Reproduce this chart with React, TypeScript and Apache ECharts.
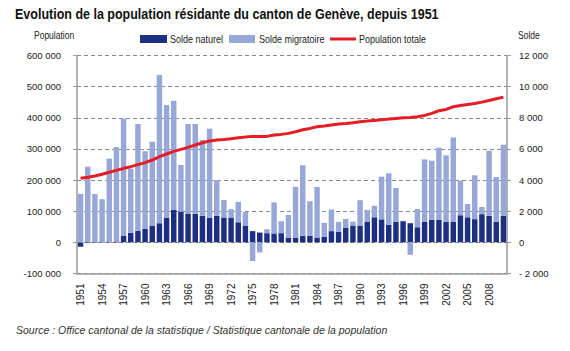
import React, { useEffect, useRef } from "react";
import * as echarts from "echarts";

const years = [
  "1951","1952","1953","1954","1955","1956","1957","1958","1959","1960",
  "1961","1962","1963","1964","1965","1966","1967","1968","1969","1970",
  "1971","1972","1973","1974","1975","1976","1977","1978","1979","1980",
  "1981","1982","1983","1984","1985","1986","1987","1988","1989","1990",
  "1991","1992","1993","1994","1995","1996","1997","1998","1999","2000",
  "2001","2002","2003","2004","2005","2006","2007","2008","2009","2010",
];

const soldeNaturel = [
  -280, -50, -40, -20, 50, 60, 430, 610, 740, 860,
  1080, 1230, 1590, 2080, 1980, 1850, 1830, 1700, 1570, 1700,
  1600, 1590, 1290, 1080, 720, 630, 590, 570, 590, 310,
  310, 420, 420, 310, 350, 720, 670, 950, 1080, 1080,
  1310, 1610, 1480, 1120, 1310, 1360, 1230, 970, 1310, 1440,
  1440, 1310, 1310, 1740, 1610, 1490, 1810, 1700, 1310, 1700,
];

const soldeMigratoire = [
  3110, 4860, 3110, 2770, 5325, 6060, 7510, 4120, 6860, 4990,
  5380, 9510, 7225, 7010, 2990, 5750, 5770, 4870, 5730, 2290,
  1125, 540, 1310, 875, -1200, -650, 250, 2000, 770, 1450,
  3250, 4530, 2220, 3250, 900, 1385, 645, 555, 255, 1625,
  775, 740, 2740, 3315, 2185, 30, -800, 1175, 4020, 3805,
  4640, 4280, 5430, 2225, 855, 2815, 465, 4185, 2890, 4570,
];

const populationTotale = [
  205700, 208900, 213100, 218500, 224900, 231300, 237700, 243000, 249500, 255900,
  264400, 275100, 283700, 292200, 298600, 305000, 312500, 320000, 325300, 328500,
  330500, 332800, 336000, 338100, 340300, 340300, 340300, 344600, 346700, 349900,
  355200, 361600, 365900, 371300, 373400, 376600, 379800, 381900, 384100, 387300,
  389400, 391600, 393700, 395800, 398000, 400100, 401200, 403300, 407600, 414000,
  422500, 426800, 435400, 439600, 442800, 446000, 450300, 455700, 461000, 466300,
];

const FONT = "'Liberation Sans', Arial, sans-serif";
const DARK = "#1c2f80";
const LIGHT = "#97a8d8";
const RED = "#e31e24";
const AXIS = "#9a9a9a";

function fmtThousands(v: number): string {
  return Math.abs(v).toString().replace(/\B(?=(\d{3})+(?!\d))/g, " ");
}

function label(text: string, x: number, y: number, font: string, scaleX: number, fill = "#222") {
  return {
    type: "text",
    x,
    y,
    scaleX,
    style: { text, font, fill, textVerticalAlign: "middle", verticalAlign: "middle" },
  };
}

export default function App() {
  const ref = useRef<HTMLDivElement>(null);
  useEffect(() => {
    document.body.style.margin = "0";
    if (!ref.current) return;
    const chart = echarts.init(ref.current, null, { renderer: "svg" });
    chart.setOption({
      animation: false,
      backgroundColor: "#ffffff",
      textStyle: { fontFamily: FONT },
      grid: { left: 77, right: 63, top: 55.5, bottom: 77.5, containLabel: false },
      xAxis: {
        type: "category",
        data: years,
        boundaryGap: true,
        axisLine: { onZero: false, lineStyle: { color: AXIS, width: 1.5 } },
        axisTick: { show: false },
        axisLabel: {
          interval: 2,
          rotate: 90,
          fontSize: 10,
          color: "#222",
          fontFamily: FONT,
          margin: 10,
        },
      },
      yAxis: [
        {
          type: "value",
          min: -100000,
          max: 600000,
          interval: 100000,
          axisLine: { show: true, lineStyle: { color: AXIS, width: 1.5 } },
          axisTick: { show: true, length: 4, lineStyle: { color: AXIS } },
          splitLine: { show: true, lineStyle: { color: "#8a8a8a", type: [4, 3], width: 1 } },
          axisLabel: {
            fontSize: 9.5,
            color: "#222",
            fontFamily: FONT,
            margin: 16,
            formatter: (v: number) => (v < 0 ? "-" : "") + fmtThousands(v),
          },
        },
        {
          type: "value",
          min: -2000,
          max: 12000,
          interval: 2000,
          position: "right",
          axisLine: { show: true, lineStyle: { color: AXIS, width: 1.5 } },
          axisTick: { show: true, length: 4, lineStyle: { color: AXIS } },
          splitLine: { show: false },
          axisLabel: {
            fontSize: 9.5,
            color: "#222",
            fontFamily: FONT,
            margin: 12,
            formatter: (v: number) => (v < 0 ? "- " : "") + fmtThousands(v),
          },
        },
      ],
      series: [
        {
          name: "Solde naturel",
          type: "bar",
          yAxisIndex: 1,
          stack: "solde",
          data: soldeNaturel,
          barCategoryGap: "24%",
          itemStyle: { color: DARK },
        },
        {
          name: "Solde migratoire",
          type: "bar",
          yAxisIndex: 1,
          stack: "solde",
          data: soldeMigratoire,
          barCategoryGap: "24%",
          itemStyle: { color: LIGHT },
        },
        {
          name: "Population totale",
          type: "line",
          yAxisIndex: 0,
          data: populationTotale,
          showSymbol: false,
          symbol: "none",
          lineStyle: { color: RED, width: 3 },
          z: 5,
        },
      ],
      graphic: [
        label(
          "Evolution de la population résidante du canton de Genève, depuis 1951",
          15, 14, `bold 14px ${FONT}`, 0.893, "#111"
        ),
        label("Population", 34, 36, `10px ${FONT}`, 0.85),
        label("Solde", 518, 36, `10px ${FONT}`, 0.85),
        { type: "rect", shape: { x: 140, y: 35, width: 27, height: 8 }, style: { fill: DARK } },
        label("Solde naturel", 170, 39, `10px ${FONT}`, 0.9),
        { type: "rect", shape: { x: 229, y: 35, width: 26, height: 8 }, style: { fill: LIGHT } },
        label("Solde migratoire", 259, 39, `10px ${FONT}`, 0.9),
        {
          type: "line",
          shape: { x1: 330, y1: 39, x2: 356, y2: 39 },
          style: { stroke: RED, lineWidth: 3 },
        },
        label("Population totale", 359, 39, `10px ${FONT}`, 0.9),
        label(
          "Source : Office cantonal de la statistique / Statistique cantonale de la population",
          16, 330, `italic 10.5px ${FONT}`, 1, "#333"
        ),
      ],
    });
    return () => chart.dispose();
  }, []);
  return <div ref={ref} style={{ width: 570, height: 351 }} />;
}
